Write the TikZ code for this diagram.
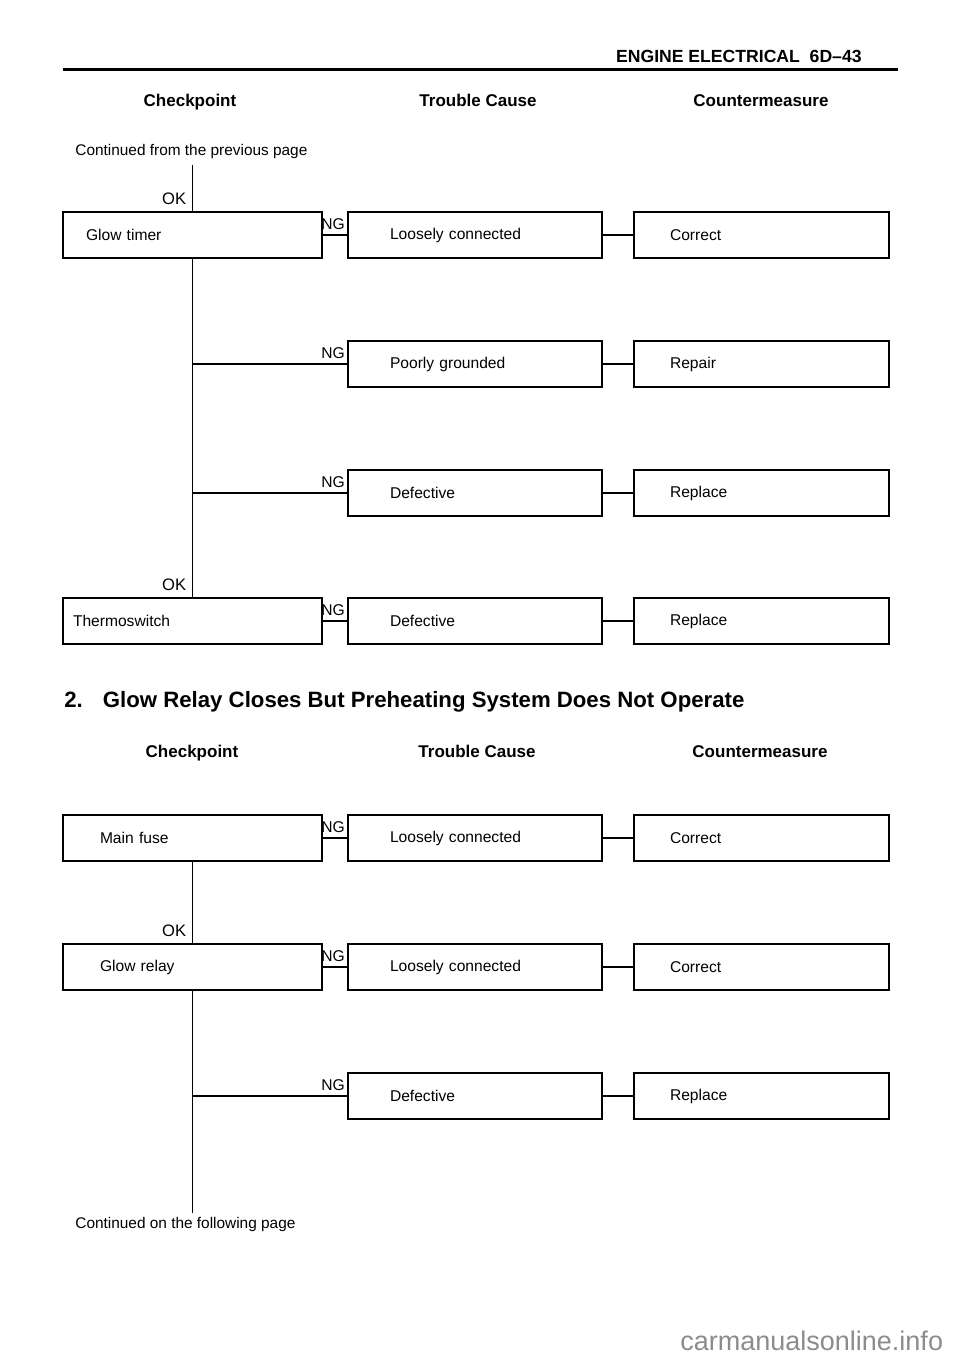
\documentclass[tikz,border=0pt]{standalone}
\usepackage{fontspec}
\setmainfont{Liberation Sans}
\begin{document}
\begin{tikzpicture}[x=0.5pt,y=-0.5pt,
    box/.style={draw, line width=0.9pt, minimum height=23pt, inner sep=0pt, align=left, font=\fontsize{7.8}{9}\selectfont},
    chk/.style={box, minimum width=129.5pt, text width=#1},
    cause/.style={box, minimum width=127pt, text width=85pt},
    cure/.style={box, minimum width=127.5pt, text width=91.5pt},
    wire/.style={line width=0.6pt},
    ok/.style={anchor=south east, inner xsep=3pt, inner ysep=3pt, font=\fontsize{8.3}{9}\selectfont},
    ng/.style={anchor=south east, inner xsep=1pt, inner ysep=2.5pt, font=\fontsize{7.8}{9}\selectfont},
    head/.style={anchor=base, inner sep=0pt, font=\bfseries\fontsize{8.5}{10}\selectfont},
    note/.style={anchor=west, inner sep=0pt, font=\fontsize{7.7}{9}\selectfont}]
    \useasboundingbox (0,0) rectangle (960,1358);
    % page head
    \node[anchor=base east, inner sep=0pt, font=\bfseries\fontsize{8.8}{10}\selectfont] (pagehead) at (862,63) {ENGINE ELECTRICAL\ \ 6D--43};
    \draw[line width=1.5pt] (63,70) -- (898,70);
    \node[head] (chkhead1) at (190,107) {Checkpoint};
    \node[head] (causehead1) at (478,107) {Trouble Cause};
    \node[head] (curehead1) at (761,107) {Countermeasure};
    \node[note] (fromprev) at (75,152) {Continued from the previous page};
    \coordinate (prev) at (192.5,165);
    %\\
    \node[chk=106.5pt] (timer) at (192.5,235) {Glow timer};
    \node[cause] (loose1) at (475,235) {Loosely connected};
    \node[cure] (fix1) at (761.5,235) {Correct};
    \node[cause] (ground) at (475,364) {Poorly grounded};
    \node[cure] (fix2) at (761.5,364) {Repair};
    \node[cause] (defect1) at (475,493) {Defective};
    \node[cure] (fix3) at (761.5,493) {Replace};
    \node[chk=119.5pt] (thermo) at (192.5,621) {Thermoswitch};
    \node[cause] (defect2) at (475,621) {Defective};
    \node[cure] (fix4) at (761.5,621) {Replace};
    \draw[wire] (prev) -- (timer);
    \node[ok] at (timer.north) {OK};
    \draw[wire] (timer) -- (thermo);
    \node[ok] at (thermo.north) {OK};
    \draw[wire] (timer) -- (loose1);
    \draw[wire] (timer.south |- ground) -- (ground);
    \draw[wire] (timer.south |- defect1) -- (defect1);
    \draw[wire] (thermo) -- (defect2);
    \foreach \c in {loose1,ground,defect1,defect2}
        \node[ng] at (\c.west) {NG};
    \draw[wire] (loose1) -- (fix1);
    \draw[wire] (ground) -- (fix2);
    \draw[wire] (defect1) -- (fix3);
    \draw[wire] (defect2) -- (fix4);
    %\\
    \node[anchor=west, inner sep=0pt, font=\bfseries\fontsize{11.1}{13}\selectfont] (title) at (64,702) {2.\hspace{10pt}Glow Relay Closes But Preheating System Does Not Operate};
    \node[head] (chkhead2) at (192,757) {Checkpoint};
    \node[head] (causehead2) at (477,757) {Trouble Cause};
    \node[head] (curehead2) at (760,757) {Countermeasure};
    %\\
    \node[chk=92.5pt] (fuse) at (192.5,838) {Main fuse};
    \node[cause] (loose2) at (475,838) {Loosely connected};
    \node[cure] (fix5) at (761.5,838) {Correct};
    \node[chk=92.5pt] (relay) at (192.5,967) {Glow relay};
    \node[cause] (loose3) at (475,967) {Loosely connected};
    \node[cure] (fix6) at (761.5,967) {Correct};
    \node[cause] (defect3) at (475,1096) {Defective};
    \node[cure] (fix7) at (761.5,1096) {Replace};
    \coordinate (next) at (192.5,1213);
    \draw[wire] (fuse) -- (relay);
    \node[ok] at (relay.north) {OK};
    \draw[wire] (relay) -- (next);
    \draw[wire] (fuse) -- (loose2);
    \draw[wire] (relay) -- (loose3);
    \draw[wire] (relay.south |- defect3) -- (defect3);
    \foreach \c in {loose2,loose3,defect3}
        \node[ng] at (\c.west) {NG};
    \draw[wire] (loose2) -- (fix5);
    \draw[wire] (loose3) -- (fix6);
    \draw[wire] (defect3) -- (fix7);
    \node[note] (tonext) at (75,1225) {Continued on the following page};
    % watermark
    \node[anchor=west, inner sep=0pt, text=black!45, font=\fontsize{13.5}{15}\selectfont] (mark) at (680,1341) {carmanualsonline.info};
\end{tikzpicture}
\end{document}
